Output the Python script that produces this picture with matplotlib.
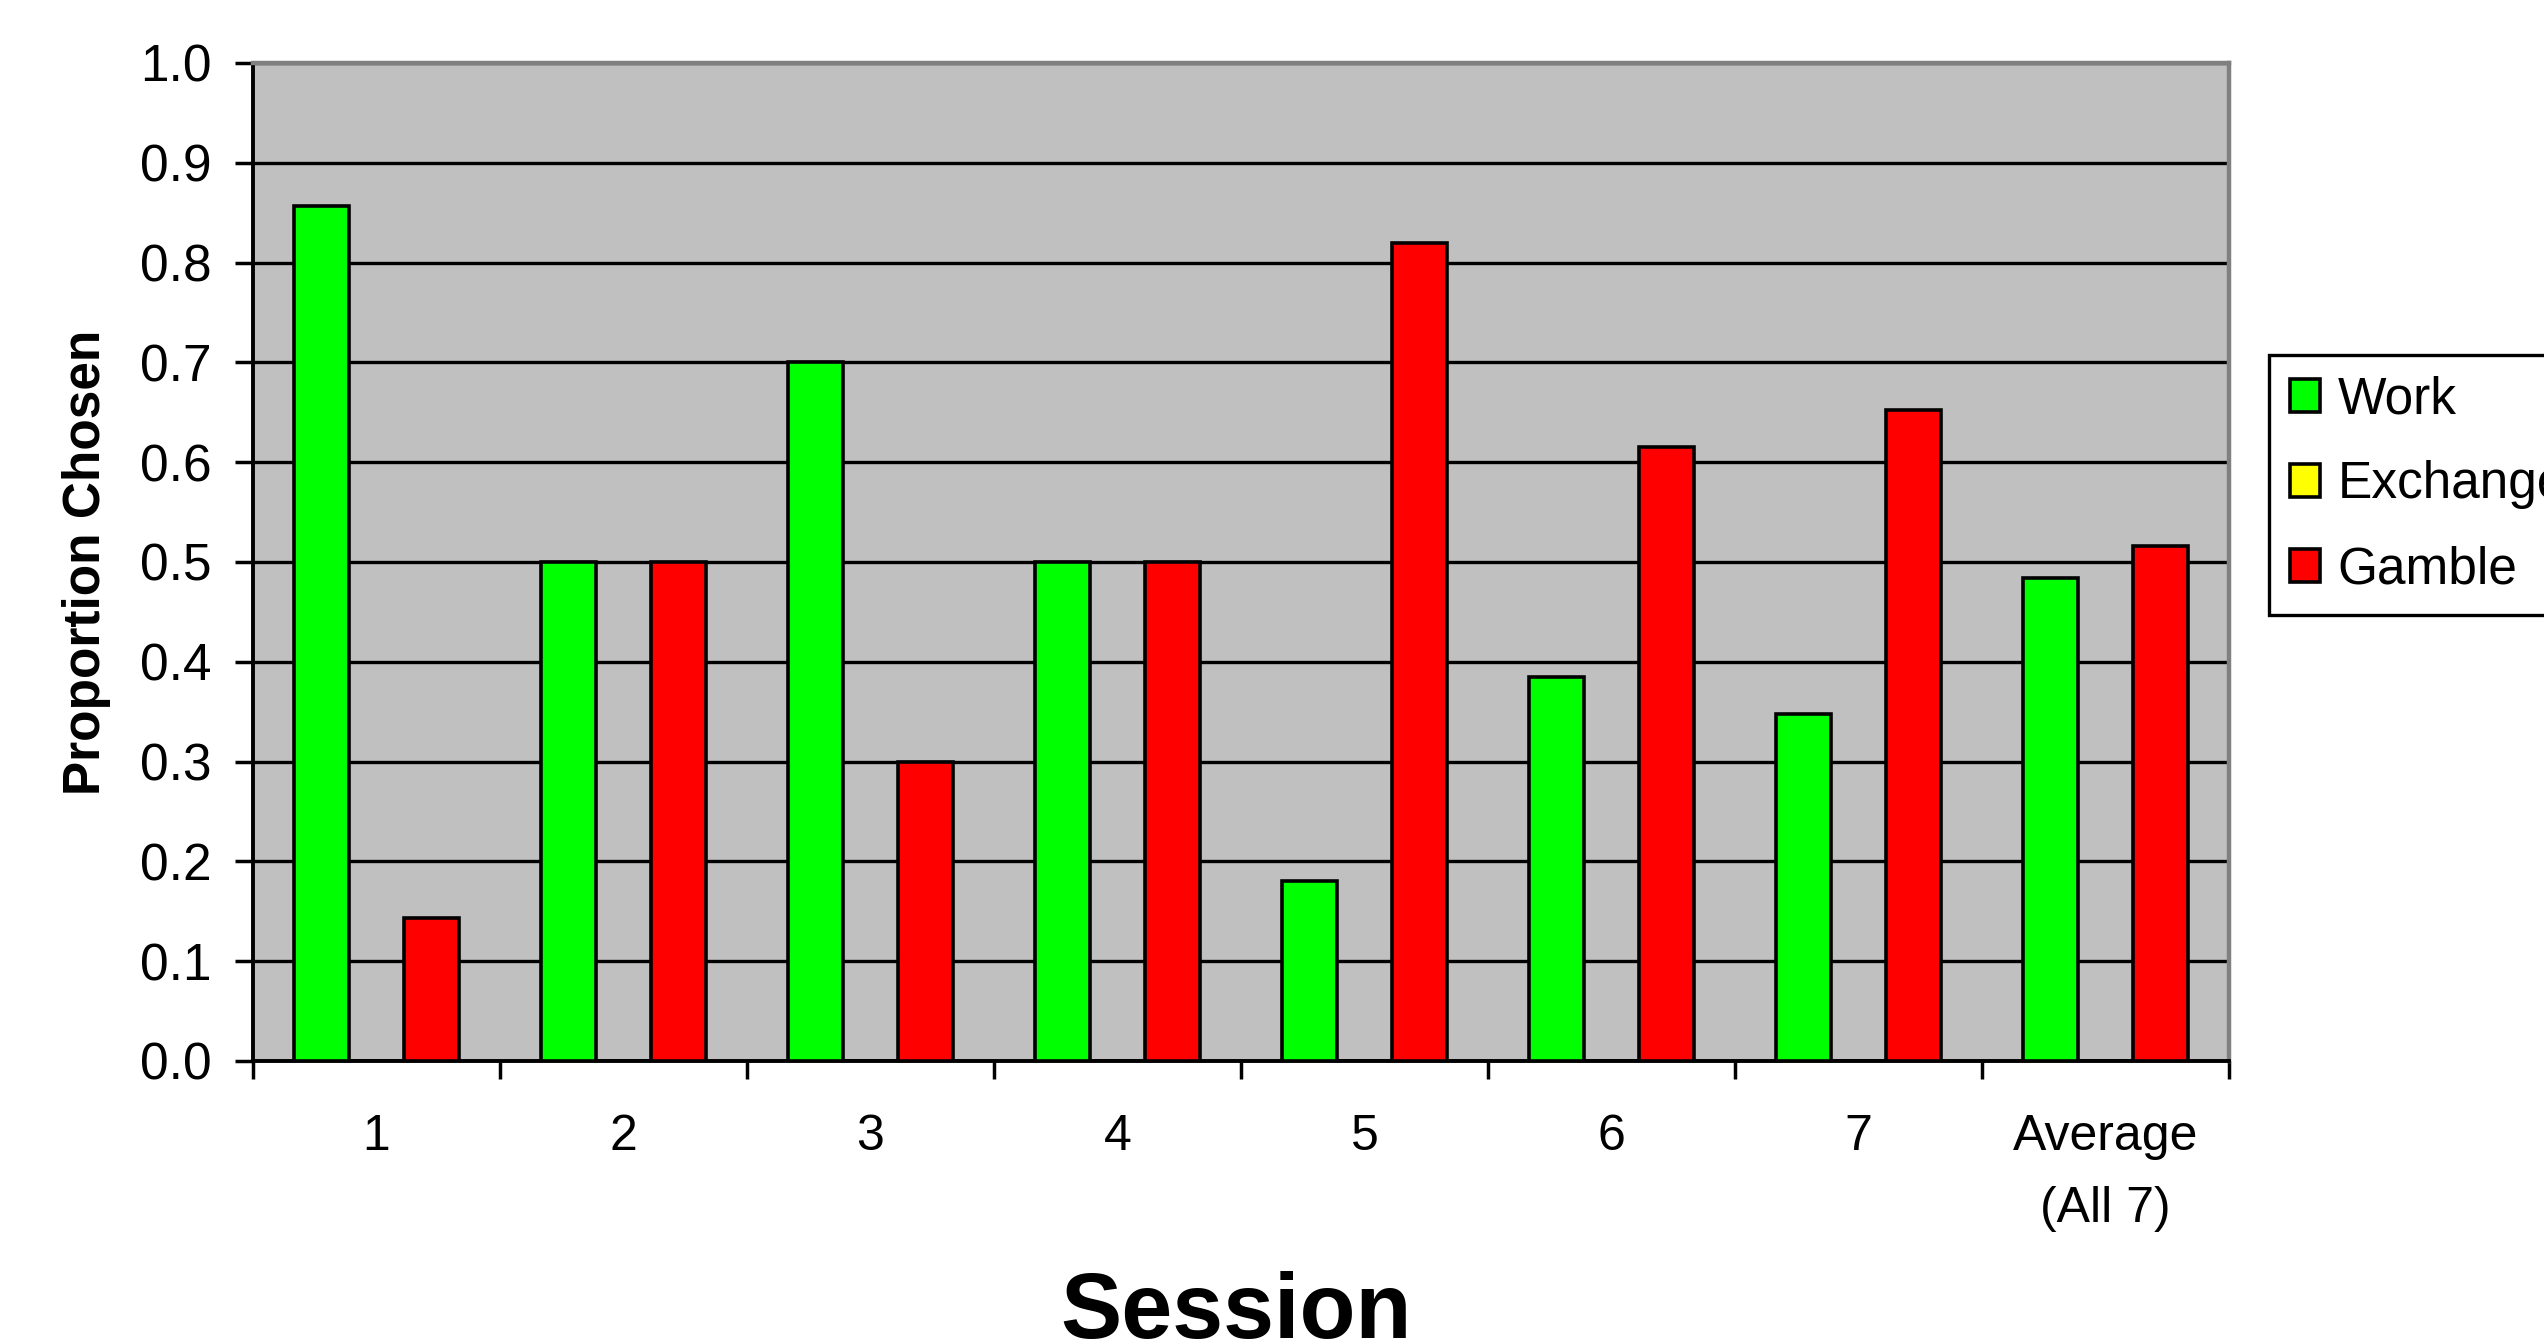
import matplotlib
matplotlib.use("Agg")
import matplotlib.pyplot as plt
import numpy as np

# ---- data ----
categories = ["1", "2", "3", "4", "5", "6", "7", "Average\n(All 7)"]
series_names = ["Work", "Exchange", "Gamble"]
work = [0.857, 0.5, 0.7, 0.5, 0.18, 0.385, 0.348, 0.484]
exchange = [0, 0, 0, 0, 0, 0, 0, 0]
gamble = [0.143, 0.5, 0.3, 0.5, 0.82, 0.615, 0.652, 0.516]
colors = ["#00FF00", "#FFFF00", "#FF0000"]
y_ticks = [0.0, 0.1, 0.2, 0.3, 0.4, 0.5, 0.6, 0.7, 0.8, 0.9, 1.0]

plt.rcParams['font.family'] = ['Liberation Sans', 'DejaVu Sans']

fig = plt.figure(figsize=(25.44, 13.43), dpi=100)
ax = fig.add_axes([0.0994, 0.21, 0.8762 - 0.0994, 0.9531 - 0.21])
ax.set_facecolor("#C0C0C0")

n = len(categories)
x = np.arange(n)
w = 1.0 / 4.5
all_series = [work, exchange, gamble]
for k, (name, vals, c) in enumerate(zip(series_names, all_series, colors)):
    ax.bar(x + (k - 1) * w, vals, width=w, color=c, edgecolor="black",
           linewidth=2.6, label=name, zorder=3)

ax.set_xlim(-0.5, n - 0.5)
ax.set_ylim(0, 1.0)
ax.set_yticks(y_ticks)
ax.set_yticklabels([f"{v:.1f}" for v in y_ticks], fontsize=37)
ax.yaxis.grid(True, color="black", linewidth=2.4, zorder=1)
ax.set_axisbelow(True)

ax.set_xticks(x)
ax.set_xticklabels(categories, fontsize=36, linespacing=1.72)
ax.set_xticks(np.arange(-0.5, n, 1.0), minor=True)
ax.tick_params(axis='x', which='major', length=0, pad=38)
ax.tick_params(axis='x', which='minor', length=13, width=2.5, direction='out')
ax.tick_params(axis='y', which='major', length=13, width=2.5, direction='out', pad=17)

for s in ['left', 'bottom']:
    ax.spines[s].set_color('black')
    ax.spines[s].set_linewidth(2.8)
for s in ['top', 'right']:
    ax.spines[s].set_color('#808080')
    ax.spines[s].set_linewidth(3.2)

ax.set_ylabel("Proportion Chosen", fontsize=37, fontweight='bold')
ax.yaxis.set_label_coords(-0.072, 0.5)

fig.text(0.4857, 0.004, "Session", fontsize=66, fontweight='bold',
         ha='center', va='baseline')

leg = fig.legend(loc='upper left', bbox_to_anchor=(0.8919, 0.7357),
                 bbox_transform=fig.transFigure, fontsize=37, frameon=True,
                 fancybox=False, borderaxespad=0, borderpad=0.4,
                 handlelength=0.6, handleheight=0.6, handletextpad=0.34,
                 labelspacing=0.7)
leg.get_frame().set_edgecolor('black')
leg.get_frame().set_linewidth(2.4)
leg.get_frame().set_facecolor('white')
leg.get_frame().set_alpha(1)

fig.savefig("out.png", dpi=100)
